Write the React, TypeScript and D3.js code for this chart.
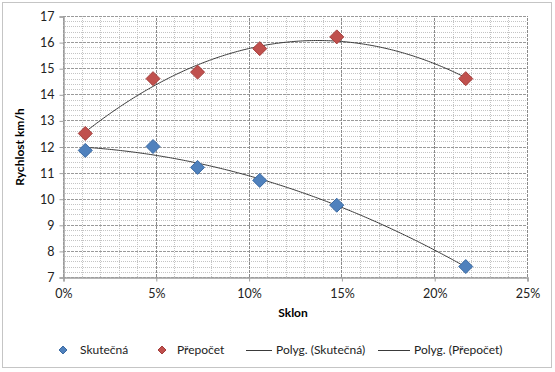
import * as d3 from 'd3';
import { useEffect, useRef } from 'react';

const sklon = [1.2, 4.85, 7.25, 10.6, 14.75, 21.7];
const skutecna = [11.85, 12.0, 11.2, 10.7, 9.75, 7.4];
const prepocet = [12.5, 14.6, 14.85, 15.75, 16.2, 14.6];
const xTicks = [0, 5, 10, 15, 20, 25];
const yTicks = [7, 8, 9, 10, 11, 12, 13, 14, 15, 16, 17];

// least squares 2nd order polynomial, like Excel's "Polyg." trendline
function polyFit(xs: number[], ys: number[]) {
  const n = xs.length;
  let s = [0, 0, 0, 0, 0], t = [0, 0, 0];
  for (let i = 0; i < n; i++) {
    for (let k = 0; k < 5; k++) s[k] += Math.pow(xs[i], k);
    for (let k = 0; k < 3; k++) t[k] += ys[i] * Math.pow(xs[i], k);
  }
  const m = [
    [s[0], s[1], s[2], t[0]],
    [s[1], s[2], s[3], t[1]],
    [s[2], s[3], s[4], t[2]],
  ];
  for (let i = 0; i < 3; i++) {
    for (let j = i + 1; j < 3; j++) {
      const f = m[j][i] / m[i][i];
      for (let k = i; k < 4; k++) m[j][k] -= f * m[i][k];
    }
  }
  const c = [0, 0, 0];
  for (let i = 2; i >= 0; i--) {
    let v = m[i][3];
    for (let k = i + 1; k < 3; k++) v -= m[i][k] * c[k];
    c[i] = v / m[i][i];
  }
  return (x: number) => c[0] + c[1] * x + c[2] * x * x;
}

export default function App() {
  const ref = useRef<SVGSVGElement>(null);

  useEffect(() => {
    if (!ref.current) return;
    const svg = d3.select(ref.current);
    svg.selectAll('*').remove();
    const font = 'Lato, "Open Sans", sans-serif';

    const x = d3.scaleLinear().domain([0, 25]).range([63, 527]);
    const y = d3.scaleLinear().domain([7, 17]).range([277, 16]);

    svg.append('rect')
      .attr('x', 2.5).attr('y', 2.5).attr('width', 549).attr('height', 365)
      .attr('fill', 'white').attr('stroke', '#8a8a8a').attr('stroke-dasharray', '1,1');

    const grid = svg.append('g');
    // minor grid
    d3.range(7, 17.01, 0.2).forEach(v => {
      grid.append('line').attr('x1', x(0)).attr('x2', x(25))
        .attr('y1', Math.round(y(v)) + 0.5).attr('y2', Math.round(y(v)) + 0.5)
        .attr('stroke', '#c4c4c4').attr('stroke-dasharray', '1,1');
    });
    d3.range(0, 25.01, 1).forEach(v => {
      grid.append('line').attr('y1', y(7)).attr('y2', y(17))
        .attr('x1', Math.round(x(v)) + 0.5).attr('x2', Math.round(x(v)) + 0.5)
        .attr('stroke', '#c4c4c4').attr('stroke-dasharray', '1,1');
    });
    // major grid
    yTicks.forEach(v => {
      grid.append('line').attr('x1', x(0)).attr('x2', x(25))
        .attr('y1', Math.round(y(v)) + 0.5).attr('y2', Math.round(y(v)) + 0.5)
        .attr('stroke', '#9a9a9a').attr('stroke-dasharray', '3,1');
    });
    xTicks.forEach(v => {
      grid.append('line').attr('y1', y(7)).attr('y2', y(17))
        .attr('x1', Math.round(x(v)) + 0.5).attr('x2', Math.round(x(v)) + 0.5)
        .attr('stroke', '#8a8a8a').attr('stroke-dasharray', '3,1');
    });

    const xAxis = svg.append('g').attr('transform', `translate(0.5,${Math.round(y(7)) + 0.5})`)
      .call(d3.axisBottom(x).tickValues(xTicks).tickSize(4).tickPadding(8).tickFormat(d => `${d}%`));
    const yAxis = svg.append('g').attr('transform', `translate(${Math.round(x(0)) + 0.5},0.5)`)
      .call(d3.axisLeft(y).tickValues(yTicks).tickSize(4).tickPadding(5));
    [xAxis, yAxis].forEach(a => {
      a.select('.domain').attr('stroke', '#a0a0a0').attr('stroke-width', 1.5);
      a.selectAll('.tick line').attr('stroke', '#a0a0a0');
      a.selectAll('text').attr('font-family', font).attr('font-size', 12.5).attr('fill', '#222');
    });

    const line = d3.line<number>().x(d => x(d[0])).y(d => y(d[1])).curve(d3.curveLinear);
    const drawTrend = (ys: number[]) => {
      const f = polyFit(sklon, ys);
      const pts = d3.range(sklon[0], sklon[sklon.length - 1] + 0.001, 0.1).map(v => [v, f(v)]);
      svg.append('path').attr('d', line(pts as any)).attr('fill', 'none')
        .attr('stroke', '#3a3a3a').attr('stroke-width', 1);
    };
    drawTrend(skutecna);
    drawTrend(prepocet);

    const diamond = (g: any, cx: number, cy: number, fill: string, stroke: string, r: number) => {
      g.append('path')
        .attr('d', `M${cx},${cy - r}L${cx + r},${cy}L${cx},${cy + r}L${cx - r},${cy}Z`)
        .attr('fill', fill).attr('stroke', stroke).attr('stroke-width', 1);
    };
    sklon.forEach((v, i) => diamond(svg, x(v), y(skutecna[i]), '#4f81bd', '#3b6aa3', 7));
    sklon.forEach((v, i) => diamond(svg, x(v), y(prepocet[i]), '#c0504d', '#a33d3a', 7));

    svg.append('text').attr('x', 293).attr('y', 317).attr('text-anchor', 'middle')
      .attr('font-family', font).attr('font-size', 12).attr('font-weight', 'bold').text('Sklon');
    svg.append('text').attr('transform', 'translate(24,147) rotate(-90)').attr('text-anchor', 'middle')
      .attr('font-family', font).attr('font-size', 12).attr('font-weight', 'bold').text('Rychlost km/h');

    const leg = svg.append('g').attr('font-family', font).attr('font-size', 12).attr('fill', '#222');
    diamond(leg, 63, 350, '#4f81bd', '#3b6aa3', 4);
    leg.append('text').attr('x', 80).attr('y', 354).text('Skutečná');
    diamond(leg, 162, 350, '#c0504d', '#a33d3a', 4);
    leg.append('text').attr('x', 177).attr('y', 354).text('Přepočet');
    leg.append('line').attr('x1', 246).attr('x2', 272).attr('y1', 350.5).attr('y2', 350.5).attr('stroke', '#3a3a3a');
    leg.append('text').attr('x', 276).attr('y', 354).text('Polyg. (Skutečná)');
    leg.append('line').attr('x1', 378).attr('x2', 410).attr('y1', 350.5).attr('y2', 350.5).attr('stroke', '#3a3a3a');
    leg.append('text').attr('x', 414).attr('y', 354).text('Polyg. (Přepočet)');
  }, []);

  return (
    <svg ref={ref} width={555} height={372}
      style={{ position: 'absolute', left: 0, top: 0, background: 'white' }} />
  );
}
